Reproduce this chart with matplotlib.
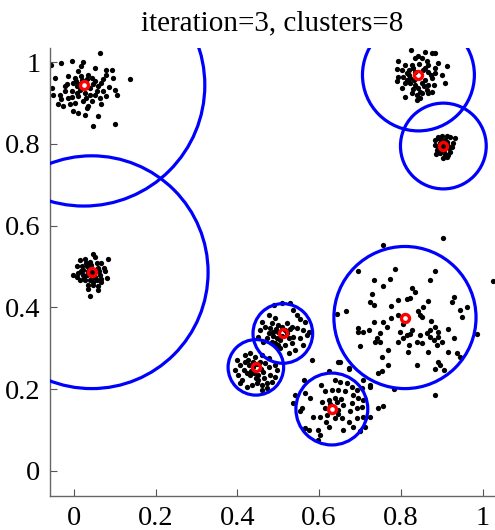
import matplotlib
matplotlib.use("Agg")
import matplotlib.pyplot as plt
from matplotlib.patches import Circle
import numpy as np

plt.rcParams['font.family'] = ['Liberation Serif', 'DejaVu Serif']

# data points of each cluster (x, y)
pts_top_left = [
    (0.063, 1.023), (-0.057, 0.993), (-0.032, 0.999), (-0.006, 1.003), (0.022, 1.001),
    (0.051, 0.986), (0.092, 0.982), (0.137, 0.958), (-0.047, 0.962), (-0.055, 0.937),
    (-0.051, 0.921), (-0.035, 0.921), (-0.039, 0.897), (-0.027, 0.893), (-0.014, 0.913),
    (-0.006, 0.929), (0.006, 0.942), (0.002, 0.962), (0.010, 0.978), (0.035, 0.970),
    (0.043, 0.962), (0.051, 0.954), (0.059, 0.942), (0.071, 0.958), (0.079, 0.970),
    (0.096, 0.962), (0.100, 0.933), (0.104, 0.921), (0.079, 0.917), (0.063, 0.913),
    (0.051, 0.921), (0.043, 0.905), (0.035, 0.893), (0.022, 0.905), (0.010, 0.917),
    (0.002, 0.901), (-0.002, 0.880), (0.010, 0.876), (0.031, 0.889), (0.059, 0.868),
    (0.047, 0.844), (0.100, 0.849), (-0.023, 0.942), (-0.014, 0.966), (0.018, 0.966),
    (0.026, 0.925), (0.039, 0.937), (0.055, 0.929), (-0.018, 0.946), (0.014, 0.933),
    (-0.010, 0.897), (0.067, 0.897), (-0.002, 0.950), (0.031, 0.958), (0.039, 0.921),
    (-0.023, 0.929), (0.018, 0.991), (0.079, 0.982), (-0.031, 0.909), (0.026, 0.872),
    (0.004, 0.954), (0.012, 0.946), (0.020, 0.956), (0.046, 0.948), (0.066, 0.950),
    (0.008, 0.925), (0.030, 0.913), (0.070, 0.930), (0.086, 0.940), (-0.004, 0.915),
]
pts_mid_left = [
    (0.047, 0.531), (0.051, 0.524), (0.014, 0.515), (0.027, 0.518), (0.039, 0.512),
    (0.055, 0.508), (0.067, 0.508), (0.082, 0.518), (0.006, 0.500), (0.019, 0.500),
    (0.031, 0.500), (0.059, 0.496), (0.076, 0.488), (-0.002, 0.479), (0.010, 0.484),
    (0.023, 0.479), (0.063, 0.479), (0.080, 0.471), (0.014, 0.467), (0.027, 0.467),
    (0.039, 0.467), (0.055, 0.467), (0.067, 0.463), (0.035, 0.455), (0.047, 0.455),
    (0.059, 0.451), (0.035, 0.444), (0.059, 0.443), (0.039, 0.428), (0.023, 0.492),
    (0.051, 0.475), (0.031, 0.479), (0.072, 0.496), (0.006, 0.475), (0.043, 0.490),
    (0.049, 0.484), (0.037, 0.482), (0.045, 0.492), (0.053, 0.488), (0.033, 0.488),
    (0.041, 0.504), (0.061, 0.488), (0.029, 0.508), (0.017, 0.488), (0.045, 0.472),
    (0.065, 0.470), (0.025, 0.472), (0.047, 0.463),
]
pts_top_right = [
    (0.825, 1.029), (0.858, 1.026), (0.876, 1.022), (0.884, 1.022), (0.843, 1.016),
    (0.835, 1.010), (0.851, 1.010), (0.794, 1.004), (0.863, 1.004), (0.810, 0.993),
    (0.827, 0.993), (0.867, 0.993), (0.892, 0.998), (0.914, 0.991), (0.884, 0.985),
    (0.790, 0.983), (0.802, 0.981), (0.819, 0.981), (0.867, 0.977), (0.884, 0.973),
    (0.900, 0.969), (0.794, 0.965), (0.806, 0.963), (0.819, 0.969), (0.831, 0.957),
    (0.859, 0.957), (0.876, 0.961), (0.790, 0.953), (0.810, 0.949), (0.823, 0.949),
    (0.835, 0.945), (0.851, 0.949), (0.867, 0.945), (0.907, 0.950), (0.802, 0.936),
    (0.843, 0.936), (0.863, 0.932), (0.876, 0.928), (0.827, 0.924), (0.839, 0.920),
    (0.851, 0.924), (0.867, 0.924), (0.810, 0.914), (0.839, 0.908), (0.847, 0.912),
    (0.835, 0.977), (0.855, 0.981), (0.823, 0.961), (0.880, 0.945), (0.814, 0.973),
    (0.829, 0.985), (0.845, 0.995), (0.859, 0.987), (0.873, 0.969), (0.829, 0.935),
    (0.857, 0.943), (0.816, 0.957), (0.847, 0.928),
]
pts_right = [
    (0.884, 0.810), (0.892, 0.818), (0.900, 0.819), (0.912, 0.819), (0.920, 0.816),
    (0.933, 0.814), (0.884, 0.797), (0.888, 0.785), (0.896, 0.777), (0.908, 0.775),
    (0.916, 0.773), (0.920, 0.781), (0.924, 0.793), (0.928, 0.802), (0.912, 0.769),
    (0.904, 0.765), (0.892, 0.789), (0.900, 0.802), (0.914, 0.806), (0.919, 0.789),
    (0.886, 0.775), (0.906, 0.785), (0.897, 0.811), (0.909, 0.810), (0.898, 0.795),
    (0.910, 0.798), (0.902, 0.788), (0.895, 0.803), (0.915, 0.795),
]
pts_wide = [
    (0.904, 0.570), (0.757, 0.553), (0.696, 0.489), (0.786, 0.495), (0.884, 0.489),
    (0.733, 0.468), (0.774, 0.469), (0.872, 0.467), (0.757, 0.451), (0.827, 0.448),
    (0.835, 0.438), (0.729, 0.432), (0.816, 0.420), (0.823, 0.422), (0.867, 0.415),
    (0.929, 0.426), (0.725, 0.414), (0.734, 0.406), (0.775, 0.403), (0.843, 0.391),
    (0.847, 0.381), (0.851, 0.377), (0.925, 0.414), (0.945, 0.393), (0.961, 0.402),
    (0.666, 0.391), (0.643, 0.383), (0.792, 0.380), (0.776, 0.375), (0.733, 0.363),
    (0.757, 0.365), (0.765, 0.353), (0.873, 0.366), (0.884, 0.353), (0.949, 0.377),
    (0.694, 0.350), (0.708, 0.340), (0.721, 0.344), (0.696, 0.340), (0.916, 0.346),
    (0.749, 0.336), (0.741, 0.324), (0.737, 0.316), (0.749, 0.314), (0.794, 0.316),
    (0.806, 0.324), (0.816, 0.332), (0.823, 0.334), (0.827, 0.344), (0.863, 0.336),
    (0.872, 0.328), (0.880, 0.320), (0.892, 0.328), (0.900, 0.316), (0.929, 0.324),
    (0.700, 0.306), (0.769, 0.295), (0.821, 0.308), (0.817, 0.290), (0.839, 0.314),
    (0.851, 0.312), (0.867, 0.290), (0.888, 0.308), (0.916, 0.291), (0.937, 0.287),
    (0.945, 0.279), (0.753, 0.279), (0.892, 0.267), (0.896, 0.259), (0.839, 0.259),
    (0.884, 0.249), (0.906, 0.247), (0.769, 0.259), (0.753, 0.244), (0.745, 0.238),
    (0.986, 0.334), (1.026, 0.464), (0.651, 0.265), (0.674, 0.251), (0.708, 0.222),
    (0.725, 0.210), (0.782, 0.200), (0.884, 0.185), (0.806, 0.358), (0.798, 0.339),
    (0.847, 0.332), (0.855, 0.402), (0.794, 0.418), (0.872, 0.344), (0.892, 0.340),
]
pts_small_a = [
    (0.490, 0.406), (0.508, 0.410), (0.529, 0.410), (0.537, 0.393), (0.545, 0.381),
    (0.553, 0.371), (0.565, 0.365), (0.459, 0.365), (0.468, 0.353), (0.484, 0.361),
    (0.492, 0.373), (0.500, 0.357), (0.521, 0.361), (0.533, 0.353), (0.545, 0.349),
    (0.561, 0.344), (0.570, 0.332), (0.476, 0.336), (0.488, 0.340), (0.496, 0.324),
    (0.525, 0.324), (0.537, 0.328), (0.553, 0.324), (0.561, 0.308), (0.451, 0.328),
    (0.463, 0.316), (0.484, 0.316), (0.500, 0.308), (0.516, 0.308), (0.533, 0.312),
    (0.541, 0.295), (0.525, 0.287), (0.504, 0.300), (0.574, 0.340), (0.476, 0.381),
    (0.516, 0.344), (0.472, 0.324), (0.455, 0.344), (0.500, 0.340), (0.508, 0.330),
    (0.494, 0.348), (0.510, 0.352), (0.522, 0.336), (0.504, 0.320), (0.486, 0.330),
    (0.480, 0.350), (0.529, 0.346), (0.492, 0.312),
]
pts_small_b = [
    (0.398, 0.271), (0.406, 0.259), (0.419, 0.283), (0.431, 0.287), (0.443, 0.279),
    (0.459, 0.283), (0.476, 0.275), (0.492, 0.259), (0.496, 0.247), (0.492, 0.230),
    (0.484, 0.218), (0.472, 0.214), (0.459, 0.210), (0.447, 0.214), (0.435, 0.210),
    (0.423, 0.206), (0.410, 0.222), (0.402, 0.234), (0.394, 0.247), (0.415, 0.247),
    (0.427, 0.259), (0.431, 0.234), (0.451, 0.234), (0.463, 0.242), (0.468, 0.263),
    (0.476, 0.255), (0.480, 0.234), (0.419, 0.267), (0.439, 0.267), (0.451, 0.222),
    (0.406, 0.214), (0.472, 0.202), (0.459, 0.197), (0.437, 0.255), (0.449, 0.262),
    (0.425, 0.271), (0.433, 0.245), (0.441, 0.240), (0.457, 0.250), (0.455, 0.265),
    (0.423, 0.238), (0.445, 0.228), (0.465, 0.228),
]
pts_bottom = [
    (0.623, 0.244), (0.672, 0.249), (0.564, 0.222), (0.605, 0.210), (0.639, 0.222),
    (0.651, 0.218), (0.667, 0.214), (0.680, 0.206), (0.692, 0.198), (0.704, 0.202),
    (0.725, 0.206), (0.541, 0.185), (0.565, 0.189), (0.578, 0.177), (0.614, 0.194),
    (0.631, 0.198), (0.647, 0.198), (0.663, 0.194), (0.684, 0.185), (0.696, 0.177),
    (0.708, 0.173), (0.537, 0.165), (0.557, 0.153), (0.606, 0.169), (0.623, 0.173),
    (0.643, 0.169), (0.659, 0.161), (0.680, 0.165), (0.692, 0.153), (0.704, 0.157),
    (0.745, 0.153), (0.757, 0.159), (0.553, 0.145), (0.586, 0.132), (0.602, 0.132),
    (0.619, 0.136), (0.639, 0.128), (0.655, 0.128), (0.672, 0.120), (0.692, 0.128),
    (0.708, 0.132), (0.725, 0.132), (0.565, 0.104), (0.598, 0.100), (0.602, 0.087),
    (0.623, 0.108), (0.659, 0.100), (0.684, 0.108), (0.700, 0.096), (0.712, 0.108),
    (0.598, 0.075), (0.574, 0.100), (0.614, 0.153), (0.647, 0.149), (0.676, 0.145),
    (0.582, 0.271), (0.647, 0.267), (0.627, 0.163), (0.639, 0.179), (0.653, 0.175),
    (0.617, 0.120), (0.645, 0.140),
]
clusters = [pts_top_left, pts_mid_left, pts_top_right, pts_right,
            pts_wide, pts_small_a, pts_small_b, pts_bottom]

# cluster centres and radii
center_x = [0.024, 0.043, 0.843, 0.904, 0.810, 0.511, 0.445, 0.631]
center_y = [0.944, 0.486, 0.969, 0.795, 0.375, 0.336, 0.253, 0.151]
radius = [0.296, 0.285, 0.137, 0.105, 0.174, 0.073, 0.068, 0.088]

fig = plt.figure(figsize=(4.95, 5.30), dpi=100)
ax = fig.add_axes([50 / 495, 34 / 530, 444 / 495, 448 / 530])

for pts in clusters:
    arr = np.array(pts)
    ax.plot(arr[:, 0], arr[:, 1], 'o', color='black', markersize=3.8, markeredgewidth=0)

for cx, cy, r in zip(center_x, center_y, radius):
    ax.add_patch(Circle((cx, cy), r, fill=False, edgecolor='#0000ff', linewidth=2.3, zorder=3))

ax.plot(center_x, center_y, 'o', markerfacecolor='none', markeredgecolor='#ff0000',
        markersize=5.8, markeredgewidth=2.4, zorder=4)

ax.set_xlim(-0.059, 1.028)
ax.set_ylim(-0.062, 1.035)
ax.set_xticks([0, 0.2, 0.4, 0.6, 0.8, 1])
ax.set_xticklabels(['0', '0.2', '0.4', '0.6', '0.8', '1'])
ax.set_yticks([0, 0.2, 0.4, 0.6, 0.8, 1])
ax.set_yticklabels(['0', '0.2', '0.4', '0.6', '0.8', '1'])
ax.tick_params(direction='in', length=5, width=0.8, color='#555555', labelsize=20.5, pad=7)
for side in ['top', 'right']:
    ax.spines[side].set_visible(False)
for side in ['left', 'bottom']:
    ax.spines[side].set_color('#666666')
    ax.spines[side].set_linewidth(1.0)

ax.set_title('iteration=3, clusters=8', fontsize=21, pad=13)

fig.savefig('out.png', dpi=100)
